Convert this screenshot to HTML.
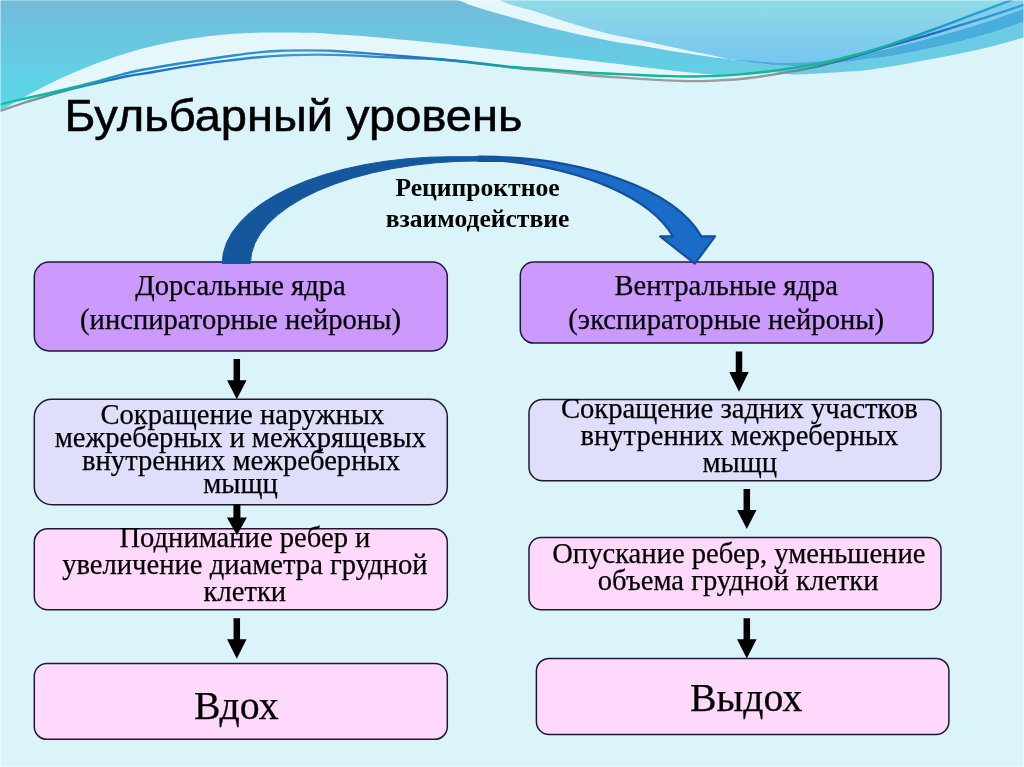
<!DOCTYPE html>
<html lang="ru">
<head>
<meta charset="utf-8">
<title>Бульбарный уровень</title>
<style>
  html, body { margin: 0; padding: 0; background: #dbf4f9; }
  body { width: 1024px; height: 767px; overflow: hidden; position: relative; font-family: "Liberation Serif", serif; }
  svg { position: absolute; left: 0; top: 0; display: block; will-change: transform; }
  .serif { font-family: "Liberation Serif", serif; }
  .sans { font-family: "Liberation Sans", sans-serif; }
  .box { stroke: #1f1830; stroke-width: 1.5; }
  .t20 { font-family: "Liberation Serif", serif; font-size: 28.62px; fill: #000; text-anchor: middle; stroke: #000; stroke-width: 0.25px; }
  .t28 { font-family: "Liberation Serif", serif; font-size: 39.8px; fill: #000; text-anchor: middle; stroke: #000; stroke-width: 0.25px; }
  .t18b { font-family: "Liberation Serif", serif; font-weight: bold; font-size: 25.6px; fill: #000; text-anchor: middle; }
  .title { font-family: "Liberation Sans", sans-serif; font-size: 44.2px; fill: #000; stroke: #000; stroke-width: 0.55px; }
  .arr { fill: #000; }
</style>
</head>
<body>
<svg width="1024" height="767" viewBox="0 0 1024 767">
  <defs>
    <linearGradient id="gA" gradientUnits="userSpaceOnUse" x1="0" y1="0" x2="0" y2="85">
      <stop offset="0" stop-color="#74bbda"/>
      <stop offset="1" stop-color="#5ed3e8"/>
    </linearGradient>
    <linearGradient id="gB" x1="0" y1="0" x2="0" y2="1">
      <stop offset="0" stop-color="#90dbe6"/>
      <stop offset="1" stop-color="#76c6f0"/>
    </linearGradient>
    <linearGradient id="gL1" gradientUnits="userSpaceOnUse" x1="0" y1="0" x2="1024" y2="0">
      <stop offset="0" stop-color="#10c49c"/>
      <stop offset="0.07" stop-color="#12b0a6"/>
      <stop offset="0.12" stop-color="#1a90c0"/>
      <stop offset="0.2" stop-color="#2a8ccc"/>
      <stop offset="0.3" stop-color="#3a96c4"/>
      <stop offset="0.4" stop-color="#1f74c4"/>
      <stop offset="0.46" stop-color="#1690b4"/>
      <stop offset="0.52" stop-color="#10b496"/>
      <stop offset="0.84" stop-color="#10ba94"/>
      <stop offset="0.885" stop-color="#18a4ac"/>
      <stop offset="0.93" stop-color="#2498cc"/>
      <stop offset="1" stop-color="#3aa6dc"/>
    </linearGradient>
    <linearGradient id="gL2" gradientUnits="userSpaceOnUse" x1="0" y1="0" x2="1024" y2="0">
      <stop offset="0" stop-color="#8f9a9c"/>
      <stop offset="0.03" stop-color="#7a8f96"/>
      <stop offset="0.07" stop-color="#2a8ea6"/>
      <stop offset="0.12" stop-color="#1f70c8"/>
      <stop offset="0.2" stop-color="#2472cc"/>
      <stop offset="0.3" stop-color="#4a9ad0"/>
      <stop offset="0.4" stop-color="#2a7ac8"/>
      <stop offset="0.5" stop-color="#5f9aa4"/>
      <stop offset="0.55" stop-color="#9a9ea0"/>
      <stop offset="0.74" stop-color="#9a9c9e"/>
      <stop offset="0.8" stop-color="#4a7a98"/>
      <stop offset="0.86" stop-color="#2468b8"/>
      <stop offset="0.91" stop-color="#2266c4"/>
      <stop offset="0.95" stop-color="#2a90d4"/>
      <stop offset="1" stop-color="#34a2dc"/>
    </linearGradient>
  </defs>

  <!-- ======== header waves ======== -->
  <g id="waves">
    <path fill="#ffffff" opacity="0.3" d="M0.0,111.0 C2.0,109.9 7.8,106.5 12.0,104.1 C16.2,101.7 18.7,100.1 25.0,96.7 C31.3,93.3 41.7,87.7 50.0,83.6 C58.3,79.5 66.7,75.6 75.0,72.0 C83.3,68.4 91.2,65.3 100.0,62.0 C108.8,58.8 119.2,55.4 128.0,52.7 C136.8,50.1 144.7,48.0 153.0,46.0 C161.3,44.0 169.7,42.3 178.0,40.8 C186.3,39.3 194.7,38.0 203.0,36.9 C211.3,35.8 219.2,35.0 228.0,34.3 C236.8,33.6 243.0,33.0 256.0,32.7 C269.0,32.5 293.5,32.6 306.0,32.8 C318.5,33.0 322.7,33.4 331.0,33.9 C339.3,34.4 347.2,34.9 356.0,35.5 C364.8,36.2 375.2,37.1 384.0,37.9 C392.8,38.7 400.7,39.4 409.0,40.3 C417.3,41.1 425.7,41.9 434.0,42.8 C442.3,43.7 450.7,44.6 459.0,45.5 C467.3,46.4 475.2,47.3 484.0,48.3 C492.8,49.3 503.2,50.5 512.0,51.5 C520.8,52.5 528.7,53.4 537.0,54.3 C545.3,55.3 553.7,56.3 562.0,57.3 C570.3,58.2 578.7,59.2 587.0,60.2 C595.3,61.2 603.2,62.2 612.0,63.3 C620.8,64.3 631.2,65.6 640.0,66.7 C648.8,67.8 656.7,68.7 665.0,69.7 C673.3,70.6 681.7,71.6 690.0,72.5 C698.3,73.3 709.3,74.3 715.0,74.8 C720.7,75.3 722.5,75.4 724.0,75.5 L715.0,75.9 C710.8,76.0 698.3,76.5 690.0,76.5 C681.7,76.5 673.3,76.2 665.0,76.0 C656.7,75.8 648.8,75.4 640.0,75.0 C631.2,74.6 620.8,74.2 612.0,73.8 C603.2,73.4 595.3,73.0 587.0,72.5 C578.7,72.0 570.3,71.2 562.0,70.6 C553.7,70.0 545.3,69.4 537.0,68.8 C528.7,68.2 520.8,67.8 512.0,67.0 C503.2,66.2 492.8,64.8 484.0,63.8 C475.2,62.8 468.8,62.0 459.0,61.0 C449.2,60.0 437.5,59.1 425.0,58.0 C412.5,56.9 395.5,55.5 384.0,54.6 C372.5,53.7 364.8,53.1 356.0,52.5 C347.2,51.9 339.3,51.1 331.0,50.8 C322.7,50.4 314.3,50.4 306.0,50.4 C297.7,50.4 289.3,50.4 281.0,50.8 C272.7,51.2 264.8,51.7 256.0,52.6 C247.2,53.5 236.8,55.0 228.0,56.2 C219.2,57.4 211.3,58.7 203.0,60.0 C194.7,61.3 186.3,62.5 178.0,63.8 C169.7,65.1 161.3,66.5 153.0,68.0 C144.7,69.5 136.8,70.7 128.0,72.8 C119.2,74.9 108.8,78.2 100.0,80.6 C91.2,83.0 83.3,84.9 75.0,87.0 C66.7,89.1 58.3,91.1 50.0,93.0 C41.7,94.9 33.3,96.6 25.0,98.5 C16.7,100.4 4.2,103.4 0.0,104.4 Z"/>
    <path fill="#ffffff" opacity="0.3" d="M499.0,0.0 C501.2,0.8 505.7,3.0 512.0,5.0 C518.3,7.0 528.7,9.4 537.0,12.0 C545.3,14.6 553.7,17.9 562.0,20.6 C570.3,23.3 578.7,25.7 587.0,28.0 C595.3,30.3 603.2,32.4 612.0,34.4 C620.8,36.4 631.2,38.1 640.0,40.0 C648.8,41.9 656.7,43.8 665.0,45.6 C673.3,47.4 681.7,49.3 690.0,51.0 C698.3,52.7 708.0,54.6 715.0,56.0 C722.0,57.4 729.2,58.8 732.0,59.4 L732.0,59.4 C729.2,59.1 722.0,58.4 715.0,57.5 C708.0,56.6 698.3,55.0 690.0,53.8 C681.7,52.5 673.3,51.4 665.0,50.0 C656.7,48.6 648.8,47.1 640.0,45.6 C631.2,44.1 620.8,42.8 612.0,41.2 C603.2,39.6 595.3,38.0 587.0,36.2 C578.7,34.4 570.3,32.6 562.0,30.6 C553.7,28.6 545.3,26.6 537.0,24.4 C528.7,22.2 518.8,19.4 512.0,17.5 C505.2,15.6 501.2,14.3 496.5,13.0 C491.8,11.7 488.2,10.6 484.0,9.4 C479.8,8.2 475.8,7.2 471.5,5.6 C467.2,4.0 460.2,0.9 458.0,0.0 Z"/>
    <path fill="url(#gA)" d="M0,0 L458.0,0.0 C460.2,0.9 467.2,4.0 471.5,5.6 C475.8,7.2 479.8,8.2 484.0,9.4 C488.2,10.6 491.8,11.7 496.5,13.0 C501.2,14.3 505.2,15.6 512.0,17.5 C518.8,19.4 528.7,22.2 537.0,24.4 C545.3,26.6 553.7,28.6 562.0,30.6 C570.3,32.6 578.7,34.4 587.0,36.2 C595.3,38.0 603.2,39.6 612.0,41.2 C620.8,42.8 631.2,44.1 640.0,45.6 C648.8,47.1 656.7,48.6 665.0,50.0 C673.3,51.4 681.7,52.5 690.0,53.8 C698.3,55.0 708.0,56.6 715.0,57.5 C722.0,58.4 729.2,59.1 732.0,59.4 L724.0,75.5 C722.5,75.4 720.7,75.3 715.0,74.8 C709.3,74.3 698.3,73.3 690.0,72.5 C681.7,71.6 673.3,70.6 665.0,69.7 C656.7,68.7 648.8,67.8 640.0,66.7 C631.2,65.6 620.8,64.3 612.0,63.3 C603.2,62.2 595.3,61.2 587.0,60.2 C578.7,59.2 570.3,58.2 562.0,57.3 C553.7,56.3 545.3,55.3 537.0,54.3 C528.7,53.4 520.8,52.5 512.0,51.5 C503.2,50.5 492.8,49.3 484.0,48.3 C475.2,47.3 467.3,46.4 459.0,45.5 C450.7,44.6 442.3,43.7 434.0,42.8 C425.7,41.9 417.3,41.1 409.0,40.3 C400.7,39.4 392.8,38.7 384.0,37.9 C375.2,37.1 364.8,36.2 356.0,35.5 C347.2,34.9 339.3,34.4 331.0,33.9 C322.7,33.4 318.5,33.0 306.0,32.8 C293.5,32.6 269.0,32.5 256.0,32.7 C243.0,33.0 236.8,33.6 228.0,34.3 C219.2,35.0 211.3,35.8 203.0,36.9 C194.7,38.0 186.3,39.3 178.0,40.8 C169.7,42.3 161.3,44.0 153.0,46.0 C144.7,48.0 136.8,50.1 128.0,52.7 C119.2,55.4 108.8,58.8 100.0,62.0 C91.2,65.3 83.3,68.4 75.0,72.0 C66.7,75.6 58.3,79.5 50.0,83.6 C41.7,87.7 31.3,93.3 25.0,96.7 C18.7,100.1 16.2,101.7 12.0,104.1 C7.8,106.5 2.0,109.9 0.0,111.0 Z"/>
    <path fill="url(#gB)" d="M499.0,0.0 C501.2,0.8 505.7,3.0 512.0,5.0 C518.3,7.0 528.7,9.4 537.0,12.0 C545.3,14.6 553.7,17.9 562.0,20.6 C570.3,23.3 578.7,25.7 587.0,28.0 C595.3,30.3 603.2,32.4 612.0,34.4 C620.8,36.4 631.2,38.1 640.0,40.0 C648.8,41.9 656.7,43.8 665.0,45.6 C673.3,47.4 681.7,49.3 690.0,51.0 C698.3,52.7 708.0,54.6 715.0,56.0 C722.0,57.4 723.2,58.4 732.0,59.4 C740.8,60.4 757.8,61.5 768.0,62.0 C778.2,62.5 784.7,62.5 793.0,62.5 C801.3,62.5 809.7,63.0 818.0,62.2 C826.3,61.5 834.7,59.8 843.0,58.0 C851.3,56.2 859.3,54.0 868.0,51.5 C876.7,49.0 885.2,46.2 895.0,43.0 C904.8,39.8 916.0,35.8 926.5,32.0 C937.0,28.2 947.6,24.2 958.0,20.3 C968.4,16.4 980.0,12.0 989.0,8.6 C998.0,5.2 1008.2,1.4 1012.0,0.0 Z"/>
    <path fill="#80ceea" d="M868.0,51.5 C872.5,50.1 885.2,46.2 895.0,43.0 C904.8,39.8 916.0,35.8 926.5,32.0 C937.0,28.2 947.6,24.2 958.0,20.3 C968.4,16.4 980.0,12.0 989.0,8.6 C998.0,5.2 1008.2,1.4 1012.0,0.0 L1024,0 L1024.0,8.6 C1018.2,10.7 1000.0,17.4 989.0,21.0 C978.0,24.6 968.4,27.5 958.0,30.5 C947.6,33.5 937.0,36.2 926.5,39.0 C916.0,41.8 904.8,44.7 895.0,47.0 C885.2,49.3 872.5,52.0 868.0,53.0 Z"/>
    <path fill="#6ccbe4" d="M724.0,70.0 C725.8,68.3 727.7,60.5 735.0,59.6 C742.3,58.7 758.3,63.5 768.0,64.6 C777.7,65.7 784.7,65.8 793.0,66.0 C801.3,66.2 809.7,66.1 818.0,65.5 C826.3,64.9 834.7,63.6 843.0,62.5 C851.3,61.4 859.3,60.2 868.0,59.0 C876.7,57.8 885.2,57.2 895.0,55.5 C904.8,53.8 916.0,51.2 926.5,49.0 C937.0,46.8 947.6,44.6 958.0,42.0 C968.4,39.4 978.0,36.9 989.0,33.6 C1000.0,30.3 1018.2,23.9 1024.0,22.0 L1024.0,37.5 C1018.2,39.1 1000.0,44.2 989.0,47.0 C978.0,49.8 968.4,51.8 958.0,54.0 C947.6,56.2 937.0,58.0 926.5,60.0 C916.0,62.0 904.8,64.1 895.0,65.8 C885.2,67.5 876.7,69.0 868.0,70.0 C859.3,71.0 851.3,71.4 843.0,72.0 C834.7,72.6 826.3,73.0 818.0,73.4 C809.7,73.8 799.0,74.4 793.0,74.4 C787.0,74.4 786.2,73.5 782.0,73.2 C777.8,72.9 774.2,72.2 768.0,72.4 C761.8,72.6 752.3,73.9 745.0,74.4 C737.7,74.9 727.5,75.3 724.0,75.5 Z"/>
    <path fill="#4aaedd" d="M735.0,59.6 C740.5,60.0 758.3,61.5 768.0,62.0 C777.7,62.5 784.7,62.6 793.0,62.5 C801.3,62.4 809.7,62.2 818.0,61.5 C826.3,60.8 834.7,59.9 843.0,58.5 C851.3,57.1 859.3,54.9 868.0,53.0 C876.7,51.1 885.2,49.3 895.0,47.0 C904.8,44.7 916.0,41.8 926.5,39.0 C937.0,36.2 947.6,33.5 958.0,30.5 C968.4,27.5 978.0,24.6 989.0,21.0 C1000.0,17.4 1018.2,10.7 1024.0,8.6 L1024.0,22.0 C1018.2,23.9 1000.0,30.3 989.0,33.6 C978.0,36.9 968.4,39.4 958.0,42.0 C947.6,44.6 937.0,46.8 926.5,49.0 C916.0,51.2 904.8,53.8 895.0,55.5 C885.2,57.2 876.7,57.8 868.0,59.0 C859.3,60.2 851.3,61.4 843.0,62.5 C834.7,63.6 826.3,64.9 818.0,65.5 C809.7,66.1 801.3,66.2 793.0,66.0 C784.7,65.8 777.7,65.7 768.0,64.6 C758.3,63.5 740.5,60.4 735.0,59.6 Z"/>
    <path fill="none" stroke="url(#gL2)" stroke-width="2.3" d="M0.0,111.0 C4.2,109.6 16.7,105.2 25.0,102.5 C33.3,99.8 41.7,97.4 50.0,95.0 C58.3,92.6 66.7,90.3 75.0,88.2 C83.3,86.1 91.2,84.3 100.0,82.3 C108.8,80.3 119.2,77.7 128.0,76.0 C136.8,74.3 144.7,73.4 153.0,72.0 C161.3,70.6 169.7,69.0 178.0,67.6 C186.3,66.2 194.7,65.0 203.0,63.8 C211.3,62.6 219.2,61.6 228.0,60.6 C236.8,59.6 247.2,58.3 256.0,57.5 C264.8,56.7 272.7,56.1 281.0,55.6 C289.3,55.1 297.7,54.9 306.0,54.8 C314.3,54.7 322.7,54.7 331.0,54.8 C339.3,54.9 347.2,55.2 356.0,55.6 C364.8,56.0 372.5,56.7 384.0,57.2 C395.5,57.7 412.5,57.9 425.0,58.6 C437.5,59.3 449.2,60.5 459.0,61.4 C468.8,62.3 475.2,63.2 484.0,64.2 C492.8,65.2 503.2,66.6 512.0,67.6 C520.8,68.6 528.7,69.2 537.0,70.0 C545.3,70.8 553.7,71.6 562.0,72.4 C570.3,73.2 578.7,74.2 587.0,75.0 C595.3,75.8 603.2,76.4 612.0,77.0 C620.8,77.6 631.2,78.2 640.0,78.8 C648.8,79.4 656.7,80.0 665.0,80.4 C673.3,80.8 681.7,81.2 690.0,81.2 C698.3,81.2 706.7,81.0 715.0,80.6 C723.3,80.2 731.2,79.9 740.0,79.0 C748.8,78.1 759.2,76.7 768.0,75.4 C776.8,74.1 784.7,72.7 793.0,71.2 C801.3,69.7 809.7,68.4 818.0,66.5 C826.3,64.6 834.7,62.3 843.0,60.0 C851.3,57.7 859.3,55.1 868.0,52.5 C876.7,49.9 885.2,47.3 895.0,44.5 C904.8,41.7 916.0,38.7 926.5,35.6 C937.0,32.5 947.6,29.0 958.0,25.8 C968.4,22.6 978.0,19.9 989.0,16.4 C1000.0,12.9 1018.2,6.7 1024.0,4.7"/>
    <path fill="none" stroke="url(#gL1)" stroke-width="2.4" d="M0.0,104.4 C4.2,103.4 16.7,100.4 25.0,98.5 C33.3,96.6 41.7,94.9 50.0,93.0 C58.3,91.1 66.7,89.1 75.0,87.0 C83.3,84.9 91.2,83.0 100.0,80.6 C108.8,78.2 119.2,74.9 128.0,72.8 C136.8,70.7 144.7,69.5 153.0,68.0 C161.3,66.5 169.7,65.1 178.0,63.8 C186.3,62.5 194.7,61.3 203.0,60.0 C211.3,58.7 219.2,57.4 228.0,56.2 C236.8,55.0 247.2,53.5 256.0,52.6 C264.8,51.7 272.7,51.2 281.0,50.8 C289.3,50.4 297.7,50.4 306.0,50.4 C314.3,50.4 322.7,50.4 331.0,50.8 C339.3,51.1 347.2,51.9 356.0,52.5 C364.8,53.1 372.5,53.7 384.0,54.6 C395.5,55.5 412.5,56.9 425.0,58.0 C437.5,59.1 449.2,60.0 459.0,61.0 C468.8,62.0 475.2,62.8 484.0,63.8 C492.8,64.8 503.2,66.2 512.0,67.0 C520.8,67.8 528.7,68.2 537.0,68.8 C545.3,69.4 553.7,70.0 562.0,70.6 C570.3,71.2 578.7,72.0 587.0,72.5 C595.3,73.0 603.2,73.4 612.0,73.8 C620.8,74.2 631.2,74.6 640.0,75.0 C648.8,75.4 656.7,75.8 665.0,76.0 C673.3,76.2 681.7,76.5 690.0,76.5 C698.3,76.5 706.7,76.2 715.0,75.9 C723.3,75.6 731.2,75.1 740.0,74.4 C748.8,73.7 759.2,72.6 768.0,71.5 C776.8,70.4 784.7,69.3 793.0,68.0 C801.3,66.7 809.7,65.5 818.0,63.8 C826.3,62.1 834.7,60.0 843.0,58.0 C851.3,56.0 859.3,54.0 868.0,51.5 C876.7,49.0 885.2,46.2 895.0,43.0 C904.8,39.8 916.0,35.8 926.5,32.0 C937.0,28.2 947.6,24.2 958.0,20.3 C968.4,16.4 980.0,12.0 989.0,8.6 C998.0,5.2 1008.2,1.4 1012.0,0.0"/>
  </g>

  <rect x="0" y="0" width="1024" height="1" fill="#ffffff" opacity="0.35"/>
  <rect x="0" y="0" width="1" height="767" fill="#ffffff" opacity="0.45"/>
  <rect x="0" y="766" width="1024" height="1" fill="#ffffff" opacity="0.45"/>
  <rect x="1023" y="0" width="1" height="767" fill="#ffffff" opacity="0.45"/>

  <!-- ======== title ======== -->
  <text class="title" x="64.5" y="131" textLength="458" lengthAdjust="spacingAndGlyphs">Бульбарный уровень</text>

  

  <!-- ======== label ======== -->
  <text class="t18b" x="477.5" y="195.9">Реципроктное</text>
  <text class="t18b" x="477.5" y="226.5">взаимодействие</text>

  <!-- ======== left column ======== -->
  <rect class="box" x="34.3" y="262.1" width="413" height="88.8" rx="14.8" ry="14.8" fill="#cc99ff"/>
  <text class="t20" x="240.5" y="295.2">Дорсальные ядра</text>
  <text class="t20" x="240.5" y="329">(инспираторные нейроны)</text>

  <path class="arr" d="M233.55,359.10 h6.50 V380.30 h6.50 L236.80,399.20 L227.05,380.30 h6.50 Z"/>

  <rect class="box" x="34.3" y="399.3" width="413" height="105.35" rx="17.6" ry="17.6" fill="#dfdefb"/>
  <text class="t20" x="242.4" y="424.3">Сокращение наружных</text>
  <text class="t20" x="240.3" y="447.1">межреберных и межхрящевых</text>
  <text class="t20" x="241" y="470.1">внутренних межреберных</text>
  <text class="t20" x="240.6" y="492.8">мыщц</text>

  <rect class="box" x="34.3" y="528.7" width="413" height="81" rx="13.5" ry="13.5" fill="#ffd9fb"/>
  <path class="arr" d="M233.40,504.60 h7.00 V517.50 h6.50 L236.90,535.20 L226.90,517.50 h6.50 Z"/>
  <text class="t20" x="244.9" y="546.6">Поднимание ребер и</text>
  <text class="t20" x="244.9" y="574">увеличение диаметра грудной</text>
  <text class="t20" x="244.9" y="601.4">клетки</text>

  <path class="arr" d="M233.55,618.30 h6.50 V639.20 h6.50 L236.80,658.80 L227.05,639.20 h6.50 Z"/>

  <rect class="box" x="34.3" y="663.6" width="413" height="75.7" rx="12.6" ry="12.6" fill="#ffd9fb"/>
  <text class="t28" x="236.3" y="718.7">Вдох</text>

  <!-- ======== right column ======== -->
  <rect class="box" x="520.3" y="262.1" width="412.8" height="81" rx="13.5" ry="13.5" fill="#cc99ff"/>
  <text class="t20" x="726.2" y="295.2">Вентральные ядра</text>
  <text class="t20" x="726.2" y="329">(экспираторные нейроны)</text>

  <path class="arr" d="M735.75,351.40 h6.50 V372.10 h6.50 L739.00,391.80 L729.25,372.10 h6.50 Z"/>

  <rect class="box" x="529" y="399.4" width="412" height="81.4" rx="13.6" ry="13.6" fill="#dfdefb"/>
  <text class="t20" x="739.4" y="418">Сокращение задних участков</text>
  <text class="t20" x="739.4" y="444.8">внутренних межреберных</text>
  <text class="t20" x="739.8" y="471.8">мыщц</text>

  <path class="arr" d="M743.55,489.10 h6.50 V510.00 h6.50 L746.80,529.00 L737.05,510.00 h6.50 Z"/>

  <rect class="box" x="529" y="537.5" width="412" height="72.35" rx="12.1" ry="12.1" fill="#ffd9fb"/>
  <text class="t20" x="738.8" y="563.2">Опускание ребер, уменьшение</text>
  <text class="t20" x="738.2" y="590.2">объема грудной клетки</text>

  <path class="arr" d="M743.55,618.25 h6.50 V639.20 h6.50 L746.80,658.40 L737.05,639.20 h6.50 Z"/>

  <rect class="box" x="536.4" y="658.4" width="412.5" height="76" rx="12.7" ry="12.7" fill="#ffd9fb"/>
  <text class="t28" x="746.2" y="710.9">Выдох</text>
  <!-- ======== curved arrow ======== -->
  <g id="curved">
    <path fill="#1b6bc8" stroke="#154f9a" stroke-width="2.2" stroke-linejoin="round" d="M694.8,263.7 L660.2,236.4 L672.98,236.4 A229.25,105.3 0 0 0 500,160.59 L479.65,160.9 L470,158.5 L479.65,156.7 A229.25,106.8 0 0 1 701.4,236.4 L715,236.4 Z"/>
    <path fill="#14579d" stroke="#14579d" stroke-width="1" d="M222.2,263.5 A229.25,106.8 0 0 1 451.45,156.7 L479.65,156.7 A229.25,106.8 0 0 1 538,160.22 L515,162.33 A229.25,105.3 0 0 0 500,160.59 L479.65,160.9 A229.25,102.6 0 0 0 250.4,263.5 Z"/>
  </g>
</svg>
</body>
</html>
